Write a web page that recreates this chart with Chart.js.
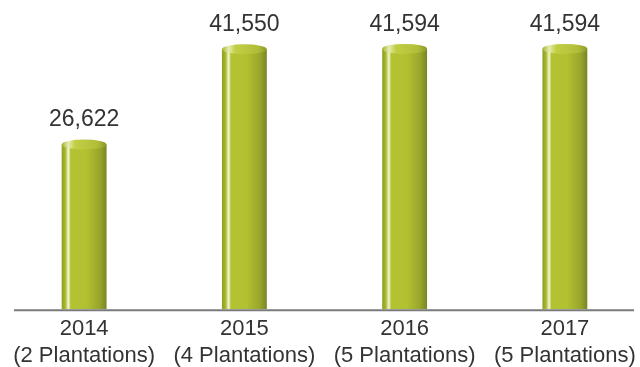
<!DOCTYPE html>
<html>
<head>
<meta charset="utf-8">
<script src="https://cdn.jsdelivr.net/npm/chart.js@4.4.1/dist/chart.umd.min.js"></script>
<style>
    html, body { margin: 0; padding: 0; background: #fff; overflow: hidden; }
    #wrap { width: 645px; height: 375px; position: relative; }
</style>
</head>
<body>
<div id="wrap"><canvas id="plantChart"></canvas></div>
<script>
var years = ['2014', '2015', '2016', '2017']
var plantations = ['(2 Plantations)', '(4 Plantations)', '(5 Plantations)', '(5 Plantations)']
var values = [26622, 41550, 41594, 41594]

var valueFont = '23px "Liberation Sans", Arial, sans-serif'

function cylinderFill(ctx, left, width) {
    var g = ctx.createLinearGradient(left, 0, left + width, 0)
    g.addColorStop(0, '#8f9c22')
    g.addColorStop(0.08, '#a8b82c')
    g.addColorStop(0.15, '#f4f7d8')
    g.addColorStop(0.2, '#b4c332')
    g.addColorStop(0.55, '#b2c131')
    g.addColorStop(0.85, '#98a52b')
    g.addColorStop(1, '#7a8524')
    return g
}

// cylinder cap, axis line and value labels
var cylinderPlugin = {
    id: 'cylinder',
    afterDatasetsDraw: function (chart) {
        var ctx = chart.ctx
        var meta = chart.getDatasetMeta(0)
        var yScale = chart.scales.y
        var xScale = chart.scales.x
        var base = yScale.getPixelForValue(0)

        ctx.save()
        meta.data.forEach(function (bar, i) {
            var w = bar.width
            var left = bar.x - w / 2
            var ry = 5
            // clear square corners then paint elliptical top
            ctx.fillStyle = '#ffffff'
            ctx.fillRect(left - 1, bar.y - 1, w + 2, ry + 1)
            ctx.beginPath()
            ctx.ellipse(bar.x, bar.y + ry, w / 2, ry, 0, 0, Math.PI * 2)
            var g = ctx.createLinearGradient(left, 0, left + w, 0)
            g.addColorStop(0, '#a3b12a')
            g.addColorStop(0.15, '#e6ecb0')
            g.addColorStop(0.3, '#c2cf45')
            g.addColorStop(0.8, '#b0bd38')
            g.addColorStop(1, '#8d9828')
            ctx.fillStyle = g
            ctx.fill()

            ctx.fillStyle = '#333333'
            ctx.font = valueFont
            ctx.textAlign = 'center'
            ctx.textBaseline = 'alphabetic'
            ctx.fillText(values[i].toLocaleString('en-US'), bar.x, bar.y - 13)
        })

        ctx.strokeStyle = '#7a7a7a'
        ctx.lineWidth = 2
        ctx.beginPath()
        ctx.moveTo(xScale.left + 10, base + 1)
        ctx.lineTo(xScale.right - 11, base + 1)
        ctx.stroke()
        ctx.restore()
    }
}

var chartLabels = years.map(function (y, i) {
    return [y, plantations[i]]
})

var plantCanvas = document.getElementById('plantChart').getContext('2d')

var plantChart = new Chart(plantCanvas, {
    type: 'bar',
    data: {
        labels: chartLabels,
        datasets: [{
            data: values,
            backgroundColor: function (context) {
                var chart = context.chart
                var xs = chart.scales.x
                if (!xs || !chart.chartArea) return '#b2c131'
                var w = xs.width / years.length * 0.28
                var cx = xs.getPixelForValue(context.dataIndex)
                return cylinderFill(chart.ctx, cx - w / 2, w)
            },
            borderWidth: 0,
            barPercentage: 0.28,
            categoryPercentage: 1
        }]
    },
    options: {
        responsive: true,
        maintainAspectRatio: false,
        animation: false,
        layout: {
            padding: { left: 4, top: 3, right: 0, bottom: 0 }
        },
        plugins: {
            legend: { display: false },
            tooltip: { enabled: false }
        },
        scales: {
            x: {
                grid: { display: false, drawTicks: false },
                border: { display: false },
                ticks: {
                    color: '#333333',
                    padding: 6,
                    maxRotation: 0,
                    autoSkip: false,
                    font: { family: '"Liberation Sans", Arial, sans-serif', size: 22, lineHeight: 1.22 }
                }
            },
            y: {
                display: false,
                min: 0,
                max: 48000
            }
        }
    },
    plugins: [cylinderPlugin]
})
</script>
</body>
</html>
